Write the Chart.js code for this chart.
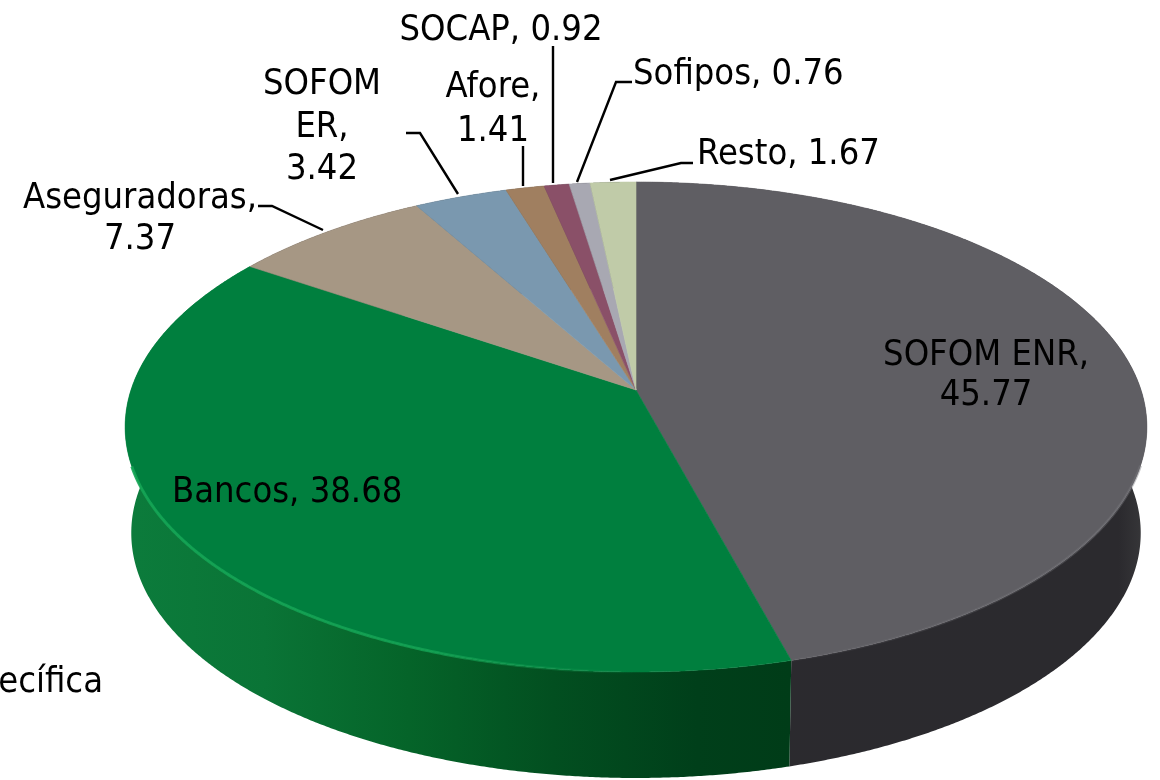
<!DOCTYPE html>
<html>
<head>
<meta charset="utf-8">
<style>
    html, body { margin: 0; padding: 0; background: #fff; overflow: hidden; }
    canvas { display: block; }
</style>
<script src="https://cdn.jsdelivr.net/npm/chart.js@4"></script>
</head>
<body>
<canvas id="pie" width="1160" height="780"></canvas>
<script>
const categories = ['SOFOM ENR', 'Bancos', 'Aseguradoras', 'SOFOM ER', 'Afore', 'SOCAP', 'Sofipos', 'Resto'];
const shareValues = [45.77, 38.68, 7.37, 3.42, 1.41, 0.92, 0.76, 1.67];
const topColors = ['#5f5e63', '#007f3e', '#a69784', '#7a98af', '#a07f60', '#8a5068', '#a8a8b2', '#c0cba8'];

// label placement, each line is one fillText
const labelLayout = [
    { align: 'center', x: 986, lines: [['SOFOM ENR,', 365], ['45.77', 405]] },
    { align: 'left', x: 172, lines: [['Bancos, 38.68', 502]] },
    { align: 'center', x: 140, lines: [['Aseguradoras,', 208], ['7.37', 249]] },
    { align: 'center', x: 322, lines: [['SOFOM', 94], ['ER,', 137], ['3.42', 179]] },
    { align: 'center', x: 493, lines: [['Afore,', 97], ['1.41', 141]] },
    { align: 'center', x: 501, lines: [['SOCAP, 0.92', 40]] },
    { align: 'left', x: 633, lines: [['Sofipos, 0.76', 84]] },
    { align: 'left', x: 697, lines: [['Resto, 1.67', 164]] },
    { align: 'right', x: 103, lines: [['ecífica', 692]] }
];

const leaderLines = [
    [[258, 206], [272, 206], [323, 230]],
    [[406, 133], [420, 133], [458, 194]],
    [[523, 146], [523, 186]],
    [[553, 46], [553, 183]],
    [[632, 82], [616, 82], [577, 182]],
    [[693, 163], [681, 163], [610, 180]]
];

// perspective of the disc, apex sits above the middle of the ellipse
const APEX_X = 636, APEX_Y = 390;
const RADIUS_X = 505, RADIUS_Y = 239.4, TILT = 0.151;
const DEPTH = 106, BOTTOM_SCALE = 0.988;

function rimPoint(angle, lower) {
    const u = Math.cos(angle), v = Math.sin(angle);
    const w = 1 - TILT * v;
    const x = RADIUS_X * u / w;
    const y = RADIUS_Y * v / w;
    if (lower) return [APEX_X + x * BOTTOM_SCALE, APEX_Y + y + DEPTH];
    return [APEX_X + x, APEX_Y + y];
}

function sweep(start, end) {
    const steps = Math.max(2, Math.ceil((end - start) / 0.005));
    const angles = [];
    for (let i = 0; i <= steps; i++) angles.push(start + (end - start) * i / steps);
    return angles;
}

function wallGradient(ctx, index) {
    const g = ctx.createLinearGradient(120, 0, 1150, 0);
    if (index === 1) {
        g.addColorStop(0, '#0c7c3c');
        g.addColorStop(0.14, '#0a7436');
        g.addColorStop(0.28, '#056429');
        g.addColorStop(0.42, '#024f20');
        g.addColorStop(0.56, '#003f1a');
        g.addColorStop(0.65, '#003c18');
    } else {
        g.addColorStop(0, '#2b2a2f');
        g.addColorStop(0.97, '#2b2a2e');
        g.addColorStop(1, '#3a3a3c');
    }
    return g;
}

function rimHighlight(ctx, index) {
    const g = ctx.createLinearGradient(120, 0, 1150, 0);
    if (index === 1) {
        g.addColorStop(0, 'rgba(20,165,85,0.9)');
        g.addColorStop(0.3, 'rgba(20,165,85,0.8)');
        g.addColorStop(0.5, 'rgba(20,165,85,0)');
    } else {
        g.addColorStop(0.6, 'rgba(120,120,125,0)');
        g.addColorStop(1, 'rgba(120,120,125,0.45)');
    }
    return g;
}

const disc3d = {
    id: 'disc3d',
    // takes over the arc drawing, angles still come from the pie controller
    beforeDatasetDraw(chart) {
        const ctx = chart.ctx;
        const arcs = chart.getDatasetMeta(0).data;

        ctx.save();
        arcs.forEach((arc, i) => {
            const angles = sweep(arc.startAngle, arc.endAngle);
            ctx.beginPath();
            angles.forEach((a, j) => {
                const p = rimPoint(a, false);
                if (j === 0) ctx.moveTo(p[0], p[1]); else ctx.lineTo(p[0], p[1]);
            });
            angles.slice().reverse().forEach(a => {
                const p = rimPoint(a, true);
                ctx.lineTo(p[0], p[1]);
            });
            ctx.closePath();
            ctx.fillStyle = wallGradient(ctx, i);
            ctx.fill();
        });

        arcs.forEach((arc, i) => {
            ctx.beginPath();
            ctx.moveTo(APEX_X, APEX_Y);
            sweep(arc.startAngle, arc.endAngle).forEach(a => {
                const p = rimPoint(a, false);
                ctx.lineTo(p[0], p[1]);
            });
            ctx.closePath();
            ctx.fillStyle = topColors[i];
            ctx.fill();
            ctx.strokeStyle = topColors[i];
            ctx.lineWidth = 0.6;
            ctx.stroke();
        });

        // light edge on the two big slices, front of the disc only
        [0, 1].forEach(i => {
            const front = sweep(arcs[i].startAngle, arcs[i].endAngle).filter(a => Math.sin(a) > 0.3);
            ctx.beginPath();
            front.forEach((a, j) => {
                const p = rimPoint(a, false);
                if (j === 0) ctx.moveTo(p[0], p[1]); else ctx.lineTo(p[0], p[1]);
            });
            ctx.strokeStyle = rimHighlight(ctx, i);
            ctx.lineWidth = 3;
            ctx.stroke();
        });
        ctx.restore();
        return false;
    },
    afterDatasetsDraw(chart) {
        const ctx = chart.ctx;
        ctx.save();
        ctx.strokeStyle = '#000';
        ctx.lineWidth = 2.4;
        leaderLines.forEach(line => {
            ctx.beginPath();
            line.forEach((p, j) => {
                if (j === 0) ctx.moveTo(p[0], p[1]); else ctx.lineTo(p[0], p[1]);
            });
            ctx.stroke();
        });

        ctx.fillStyle = '#000';
        ctx.font = '36px "DejaVu Sans Condensed", "DejaVu Sans"';
        ctx.textBaseline = 'alphabetic';
        labelLayout.forEach(label => {
            ctx.textAlign = label.align;
            label.lines.forEach(line => ctx.fillText(line[0], label.x, line[1]));
        });
        ctx.restore();
    }
};

document.addEventListener('DOMContentLoaded', () => {
    const ctx = document.getElementById('pie').getContext('2d');
    new Chart(ctx, {
        type: 'pie',
        data: {
            labels: categories,
            datasets: [{
                data: shareValues,
                backgroundColor: topColors,
                borderWidth: 0
            }]
        },
        options: {
            responsive: false,
            animation: false,
            plugins: {
                legend: { display: false },
                tooltip: { enabled: false }
            }
        },
        plugins: [disc3d]
    });
});
</script>
</body>
</html>
